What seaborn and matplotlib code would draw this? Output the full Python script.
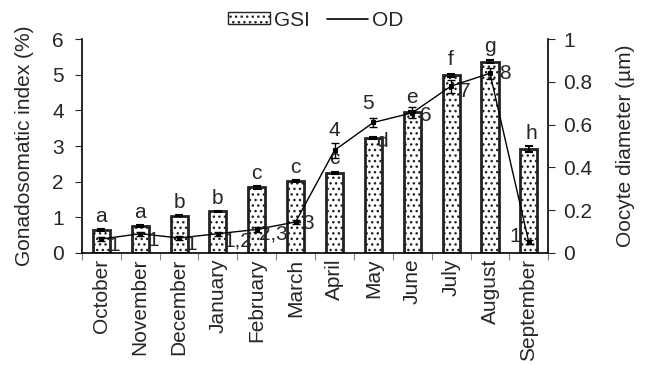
import numpy as np
import pandas as pd
import seaborn as sns
import matplotlib.pyplot as plt
from matplotlib.patches import Patch
from matplotlib.lines import Line2D

sns.set_style("white")
plt.rcParams['font.family'] = ['Liberation Sans', 'DejaVu Sans']
plt.rcParams['hatch.color'] = '#666666'
plt.rcParams['hatch.linewidth'] = 1.0

# data
months = ['October', 'November', 'December', 'January', 'February', 'March',
          'April', 'May', 'June', 'July', 'August', 'September']
gsi = [0.65, 0.76, 1.05, 1.17, 1.84, 2.02, 2.24, 3.22, 3.95, 4.98, 5.37, 2.92]
gsi_err = [0.03, 0.03, 0.02, 0.02, 0.04, 0.04, 0.02, 0.03, 0.03, 0.05, 0.04, 0.09]
gsi_letters = ['a', 'a', 'b', 'b', 'c', 'c', 'c', 'd', 'e', 'f', 'g', 'h']
od = [0.065, 0.09, 0.07, 0.09, 0.11, 0.145, 0.48, 0.61, 0.655, 0.78, 0.84, 0.05]
od_err = [0.01, 0.01, 0.01, 0.01, 0.01, 0.01, 0.035, 0.02, 0.025, 0.03, 0.025, 0.01]
od_groups = ['1', '1', '1', '1,2', '2,3', '3', '4', '5', '6', '7', '8', '1']

# label offsets (points) for letters and OD group numbers
letter_off = [(0, 2), (0, 2), (0, 2), (0, 2), (0, 2), (0, 2),
              (0, 3), (6, -10), (0, 3), (0, 3), (0, 3), (2, 2)]
group_off = [(9, -5), (9, -5), (9, -5), (14, -5), (12, -3), (9, -1),
             (0, 14), (-4, 14), (10, -2), (10, -4), (11, 0), (-10, 4)]

df = pd.DataFrame({'month': months, 'gsi': gsi})
x = np.arange(len(months))
fs = 15

fig, ax = plt.subplots(figsize=(6.45, 3.65), dpi=100)
fig.subplots_adjust(left=0.127, right=0.85, bottom=0.307, top=0.893)

sns.barplot(data=df, x='month', y='gsi', color='white', edgecolor='#222222',
            linewidth=2, width=0.44, ax=ax, errorbar=None)
for p in ax.patches:
    p.set_hatch('...')
ax.errorbar(x, gsi, yerr=gsi_err, fmt='none', ecolor='black', elinewidth=1.2,
            capsize=3, capthick=1.5)
for i in range(len(months)):
    ax.annotate(gsi_letters[i], (x[i], gsi[i] + gsi_err[i]), xytext=letter_off[i],
                textcoords='offset points', ha='center', va='bottom', fontsize=fs)

ax.set_xlim(-0.5, len(months) - 0.5)
ax.set_ylim(0, 6)
ax.set_yticks(range(7))
ax.set_ylabel('Gonadosomatic index (%)', fontsize=fs, labelpad=13)
ax.set_xlabel('')
ax.set_xticks(np.arange(len(months) + 1) - 0.5)
ax.set_xticklabels([])
ax.set_xticks(x, minor=True)
ax.set_xticklabels(months, minor=True, rotation=90, fontsize=fs)
ax.tick_params(axis='x', which='major', length=5, color='#888888', direction='out', bottom=True)
ax.tick_params(axis='x', which='minor', length=0, pad=4)
ax.tick_params(axis='y', length=5, direction='out', left=True, labelsize=fs, pad=8)
for s in ['left', 'bottom']:
    ax.spines[s].set_color('black')
    ax.spines[s].set_linewidth(1.2)
ax.spines['top'].set_visible(False)
ax.spines['right'].set_visible(False)

ax2 = ax.twinx()
sns.lineplot(x=x, y=od, color='black', linewidth=1.0, marker='s', markersize=3,
             markeredgecolor='black', ax=ax2)
ax2.errorbar(x, od, yerr=od_err, fmt='none', ecolor='black', elinewidth=1.0,
             capsize=3, capthick=1.0)
for i in range(len(months)):
    ax2.annotate(od_groups[i], (x[i], od[i]), xytext=group_off[i],
                 textcoords='offset points', ha='center', va='center', fontsize=fs)
ax2.set_ylim(0, 1)
ax2.set_yticks([0, 0.2, 0.4, 0.6, 0.8, 1])
ax2.set_yticklabels(['0', '0.2', '0.4', '0.6', '0.8', '1'])
ax2.set_ylabel('Oocyte diameter (µm)', fontsize=fs, labelpad=17)
ax2.tick_params(axis='y', length=5, direction='out', right=True, labelsize=fs, pad=6)
ax2.spines['right'].set_color('black')
ax2.spines['right'].set_linewidth(1.2)
ax2.spines['top'].set_visible(False)
ax2.spines['left'].set_visible(False)
ax2.spines['bottom'].set_visible(False)

handles = [Patch(facecolor='white', edgecolor='#222222', hatch='...', linewidth=1),
           Line2D([0], [0], color='black', linewidth=1.2)]
fig.legend(handles, ['GSI', 'OD'], loc='center', bbox_to_anchor=(0.49, 0.945),
           ncol=2, frameon=False, fontsize=fs, handlelength=2.0, handleheight=0.5,
           handletextpad=0.2, columnspacing=0.8)

plt.savefig('out.png', dpi=100)
